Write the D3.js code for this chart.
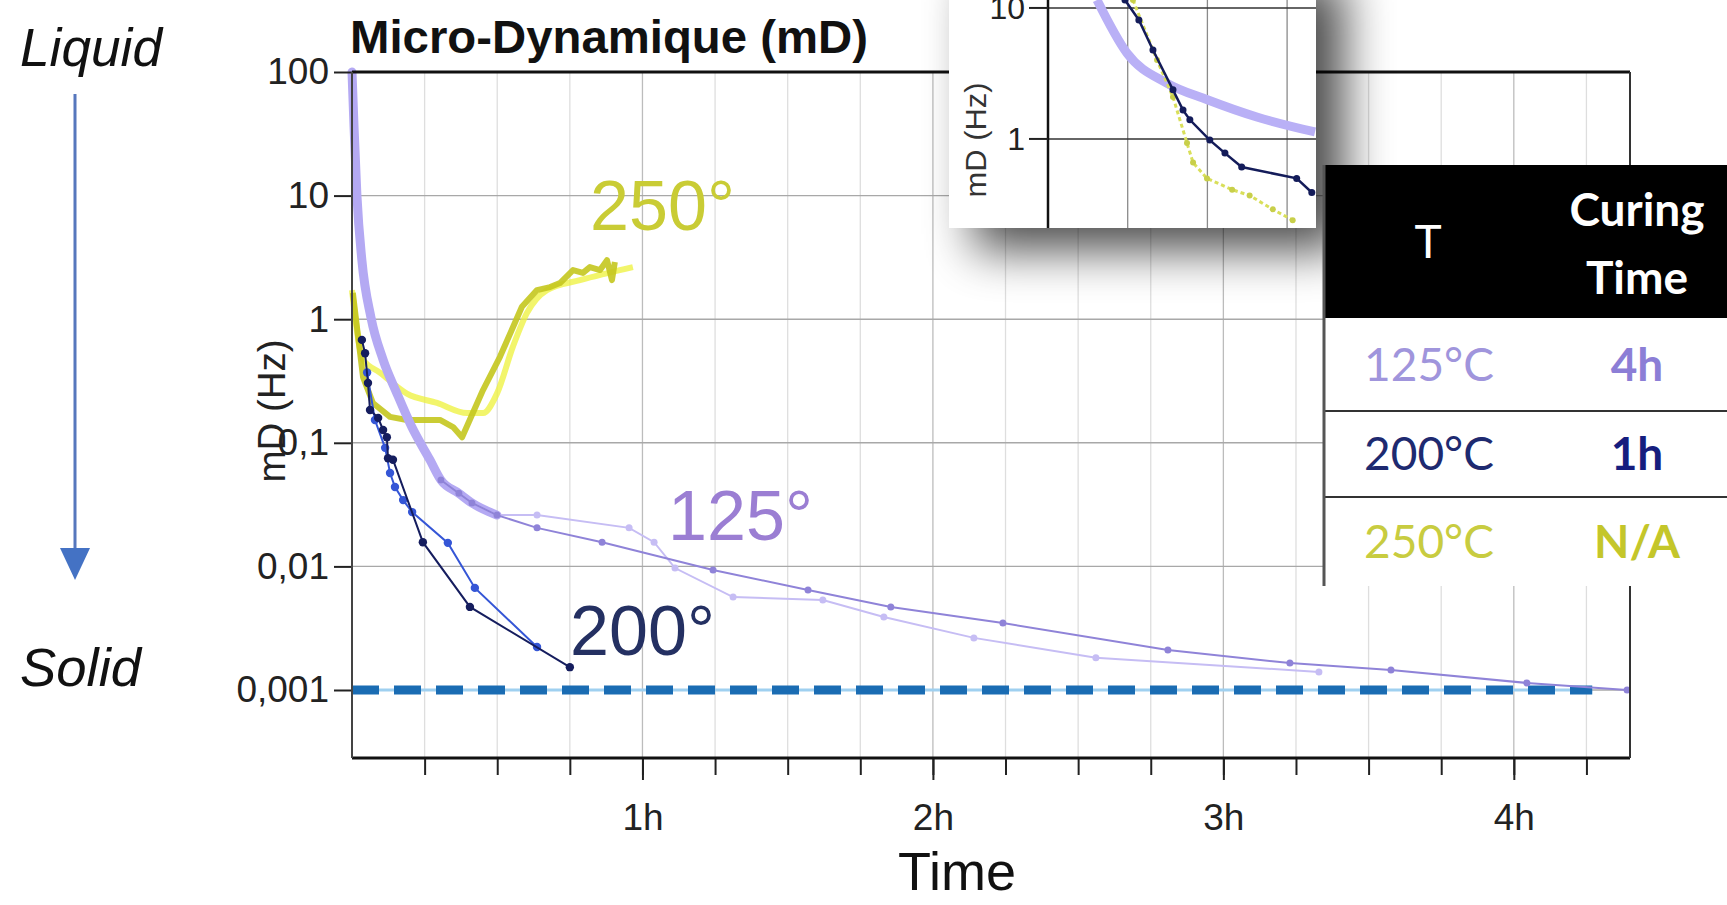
<!DOCTYPE html>
<html>
<head>
<meta charset="utf-8">
<script src="https://cdn.jsdelivr.net/npm/d3@7"></script>
<style>
	body{margin:0;background:#fff}
	svg{display:block}
</style>
</head>
<body>
<svg id="chart" width="1727" height="905"></svg>
<script>
// axis ticks
const yTicks = [100, 10, 1, 0.1, 0.01, 0.001]
const yTickLabels = ['100', '10', '1', '0,1', '0,01', '0,001']
const xHours = [1, 2, 3, 4]
const xQuarters = [0.25, 0.5, 0.75, 1, 1.25, 1.5, 1.75, 2, 2.25, 2.5, 2.75, 3, 3.25, 3.5, 3.75, 4, 4.25]
const threshold = 0.001

// 125° : early thick band, then two runs (time in h, mD in Hz)
const t125Early = [0, 0.007, 0.017, 0.034, 0.065, 0.107, 0.155, 0.206, 0.268, 0.306, 0.368, 0.413, 0.499]
const v125Early = [100, 36, 10, 3.0, 1.04, 0.47, 0.25, 0.134, 0.073, 0.05, 0.039, 0.0326, 0.026]
const t125a = [0.306, 0.368, 0.413, 0.499, 0.637, 0.861, 1.243, 1.57, 1.855, 2.241, 2.809, 3.229, 3.577, 4.045, 4.39]
const v125a = [0.05, 0.039, 0.0326, 0.026, 0.0205, 0.0157, 0.00935, 0.00644, 0.0047, 0.00348, 0.00211, 0.00165, 0.00145, 0.00114, 0.001]
const t125b = [0.306, 0.368, 0.413, 0.499, 0.637, 0.954, 1.04, 1.112, 1.312, 1.621, 1.831, 2.141, 2.561, 3.329]
const v125b = [0.05, 0.039, 0.0326, 0.026, 0.026, 0.0205, 0.0157, 0.0097, 0.00565, 0.00534, 0.0039, 0.00264, 0.00182, 0.0014]

// 200°
const t200a = [0.034, 0.045, 0.055, 0.062, 0.09, 0.107, 0.12, 0.124, 0.141, 0.244, 0.406, 0.75]
const v200a = [0.68, 0.53, 0.305, 0.184, 0.159, 0.127, 0.111, 0.075, 0.073, 0.0157, 0.0047, 0.00153]
const t200b = [0.052, 0.079, 0.114, 0.131, 0.148, 0.176, 0.207, 0.33, 0.423, 0.637]
const v200b = [0.37, 0.153, 0.091, 0.057, 0.0439, 0.0344, 0.0275, 0.0155, 0.0067, 0.00223]

// 250°
const t250a = [0.003, 0.017, 0.038, 0.072, 0.131, 0.189, 0.303, 0.348, 0.379, 0.451, 0.509, 0.585, 0.637, 0.682, 0.716, 0.761, 0.795, 0.819, 0.854, 0.878, 0.895, 0.905]
const v250a = [1.63, 0.865, 0.34, 0.21, 0.162, 0.153, 0.153, 0.134, 0.111, 0.267, 0.494, 1.26, 1.72, 1.82, 1.96, 2.5, 2.37, 2.64, 2.5, 3.0, 2.07, 2.9]
const t250b = [0, 0.038, 0.096, 0.189, 0.293, 0.396, 0.451, 0.499, 0.554, 0.602, 0.671, 0.785, 0.967]
const v250b = [1.72, 0.47, 0.37, 0.25, 0.21, 0.174, 0.174, 0.25, 0.6, 1.12, 1.72, 2.07, 2.64]

// inset (zoom on the start)
const insetTicks = [10, 1]
const insetGrid = [1, 2, 3]
const ti125 = [0.615, 0.99, 1.49, 2.0, 2.62, 3.35]
const vi125 = [11.5, 4.53, 2.67, 1.99, 1.47, 1.13]
const ti200 = [0.966, 1.14, 1.317, 1.568, 1.694, 1.78, 2.03, 2.22, 2.43, 3.12, 3.31]
const vi200 = [11.5, 8.1, 4.78, 2.37, 1.66, 1.40, 0.98, 0.78, 0.61, 0.50, 0.39]
const ti250 = [1.066, 1.368, 1.568, 1.744, 1.82, 1.995, 2.31, 2.53, 2.82, 3.07]
const vi250 = [11.5, 4.0, 2.09, 0.93, 0.66, 0.50, 0.41, 0.37, 0.29, 0.24]

// curing table
const tblTemps = ['125°C', '200°C', '250°C']
const tblTimes = ['4h', '1h', 'N/A']

const zip = (a, b) => a.map((t, i) => [t, b[i]])

const draw = () => {
	const svg = d3.select('#chart')
	const sans = 'Liberation Sans, Arial, sans-serif'
	const cal = 'Lato, Open Sans, sans-serif'

	const x = d3.scaleLinear().domain([0, 4.4]).range([352, 1630])
	const y = d3.scaleLog().domain([0.000287, 100]).range([757, 72])

	const defs = svg.append('defs')
	const flt = defs.append('filter').attr('id', 'shadow')
		.attr('x', '-50%').attr('y', '-50%').attr('width', '200%').attr('height', '200%')
	flt.append('feGaussianBlur').attr('stdDeviation', 24)
	defs.append('clipPath').attr('id', 'insetClip')
		.append('rect').attr('x', 949).attr('y', 0).attr('width', 367).attr('height', 228)

	// grid
	const grid = svg.append('g')
	grid.selectAll('.vg').data(xQuarters).join('line').classed('vg', true)
		.attr('x1', d => x(d)).attr('x2', d => x(d))
		.attr('y1', 72).attr('y2', 757)
		.attr('stroke', d => Number.isInteger(d) ? '#bcbcbc' : '#dedede')
		.attr('stroke-width', 1.3)
	grid.selectAll('.hg').data(yTicks.slice(1)).join('line').classed('hg', true)
		.attr('x1', 352).attr('x2', 1630)
		.attr('y1', d => y(d)).attr('y2', d => y(d))
		.attr('stroke', '#a8a8a8').attr('stroke-width', 1.4)

	// threshold line
	svg.append('line')
		.attr('x1', x(0)).attr('x2', x(4.27))
		.attr('y1', y(threshold)).attr('y2', y(threshold))
		.attr('stroke', '#9fd0f0').attr('stroke-width', 3)
	svg.append('line')
		.attr('x1', x(0)).attr('x2', x(4.27))
		.attr('y1', y(threshold)).attr('y2', y(threshold))
		.attr('stroke', '#1a6cb3').attr('stroke-width', 9)
		.attr('stroke-dasharray', '27 15')

	const line = d3.line().x(d => x(d[0])).y(d => y(d[1]))
	const smooth = d3.line().x(d => x(d[0])).y(d => y(d[1])).curve(d3.curveMonotoneX)

	const plot = svg.append('g')

	// 250°
	plot.append('path').datum(zip(t250b, v250b))
		.attr('d', smooth).attr('fill', 'none')
		.attr('stroke', '#eef23a').attr('stroke-width', 6).attr('opacity', 0.75)
	plot.append('path').datum(zip(t250a, v250a))
		.attr('d', line).attr('fill', 'none')
		.attr('stroke', '#c4c61e').attr('stroke-width', 6)
		.attr('stroke-linejoin', 'round').attr('opacity', 0.9)

	// 125°
	plot.append('path').datum(zip(t125Early, v125Early))
		.attr('d', smooth).attr('fill', 'none')
		.attr('stroke', '#b4a9f3').attr('stroke-width', 9)
		.attr('stroke-linecap', 'round')
	const runs125 = [[zip(t125b, v125b), '#c6bdf4'], [zip(t125a, v125a), '#8f83d8']]
	runs125.forEach(([pts, col]) => {
		plot.append('path').datum(pts)
			.attr('d', line).attr('fill', 'none')
			.attr('stroke', col).attr('stroke-width', 2)
		plot.selectAll(null).data(pts).join('circle')
			.attr('cx', d => x(d[0])).attr('cy', d => y(d[1])).attr('r', 3.5)
			.attr('fill', col)
	})

	// 200°
	const runs200 = [[zip(t200b, v200b), '#3556d6'], [zip(t200a, v200a), '#151d5e']]
	runs200.forEach(([pts, col]) => {
		plot.append('path').datum(pts)
			.attr('d', line).attr('fill', 'none')
			.attr('stroke', col).attr('stroke-width', 2)
		plot.selectAll(null).data(pts).join('circle')
			.attr('cx', d => x(d[0])).attr('cy', d => y(d[1])).attr('r', 4.2)
			.attr('fill', col)
	})

	// series labels
	const lbl = [['250°', 590, 230, '#c9cc35'], ['125°', 668, 540, '#9b7ed3'], ['200°', 570, 655, '#243062']]
	svg.selectAll('.slabel').data(lbl).join('text').classed('slabel', true)
		.attr('x', d => d[1]).attr('y', d => d[2])
		.attr('fill', d => d[3])
		.attr('font-family', sans).attr('font-size', 70)
		.attr('textLength', 145).attr('lengthAdjust', 'spacingAndGlyphs')
		.text(d => d[0])

	// axes
	const yAxis = d3.axisLeft(y).tickValues(yTicks)
		.tickFormat((d, i) => yTickLabels[i]).tickSize(18).tickPadding(5)
	const gy = svg.append('g').attr('transform', 'translate(352,0)').call(yAxis)
	gy.select('.domain').remove()
	gy.selectAll('line').attr('stroke', '#222').attr('stroke-width', 2)
	gy.selectAll('text').attr('font-family', sans).attr('font-size', 37).attr('fill', '#222')

	const gxMinor = svg.append('g').attr('transform', 'translate(0,758)')
		.call(d3.axisBottom(x).tickValues(xQuarters).tickSize(17).tickFormat(''))
	gxMinor.select('.domain').remove()
	gxMinor.selectAll('line').attr('stroke', '#222').attr('stroke-width', 2)
	const gx = svg.append('g').attr('transform', 'translate(0,758)')
		.call(d3.axisBottom(x).tickValues(xHours).tickSize(22).tickPadding(24).tickFormat(d => d + 'h'))
	gx.select('.domain').remove()
	gx.selectAll('line').attr('stroke', '#222').attr('stroke-width', 2)
	gx.selectAll('text').attr('font-family', sans).attr('font-size', 37).attr('fill', '#222')

	// frame
	const frame = [[352, 72, 1630, 72, '#111', 3], [352, 758, 1630, 758, '#111', 3],
		[352, 72, 352, 758, '#444', 2], [1630, 72, 1630, 758, '#333', 2]]
	svg.selectAll('.frame').data(frame).join('line').classed('frame', true)
		.attr('x1', d => d[0]).attr('y1', d => d[1]).attr('x2', d => d[2]).attr('y2', d => d[3])
		.attr('stroke', d => d[4]).attr('stroke-width', d => d[5])

	// titles
	svg.append('text').attr('x', 350).attr('y', 53)
		.attr('font-family', sans).attr('font-weight', 'bold').attr('font-size', 47)
		.attr('textLength', 518).attr('lengthAdjust', 'spacingAndGlyphs')
		.attr('fill', '#111').text('Micro-Dynamique (mD)')
	svg.append('text')
		.attr('transform', 'translate(285,411) rotate(-90)')
		.attr('text-anchor', 'middle')
		.attr('font-family', sans).attr('font-size', 38)
		.attr('textLength', 143).attr('lengthAdjust', 'spacingAndGlyphs')
		.attr('fill', '#222').text('mD (Hz)')
	svg.append('text').attr('x', 957).attr('y', 890)
		.attr('text-anchor', 'middle')
		.attr('font-family', sans).attr('font-size', 54)
		.attr('textLength', 118).attr('lengthAdjust', 'spacingAndGlyphs')
		.attr('fill', '#111').text('Time')

	// liquid -> solid arrow
	svg.append('text').attr('x', 20).attr('y', 66)
		.attr('font-family', sans).attr('font-style', 'italic').attr('font-size', 54)
		.attr('textLength', 142).attr('lengthAdjust', 'spacingAndGlyphs')
		.attr('fill', '#111').text('Liquid')
	svg.append('text').attr('x', 20).attr('y', 686)
		.attr('font-family', sans).attr('font-style', 'italic').attr('font-size', 54)
		.attr('textLength', 121).attr('lengthAdjust', 'spacingAndGlyphs')
		.attr('fill', '#111').text('Solid')
	svg.append('line').attr('x1', 75).attr('x2', 75).attr('y1', 94).attr('y2', 552)
		.attr('stroke', '#5677bd').attr('stroke-width', 3)
	svg.append('path').attr('d', 'M60,548 L90,548 L75,580 Z').attr('fill', '#4472c4')

	// inset
	const ix = d3.scaleLinear().domain([0, 3.35]).range([1048, 1315])
	const iy = d3.scaleLog().domain([0.209, 11.5]).range([228, 0])
	svg.append('rect').attr('x', 974).attr('y', -20).attr('width', 370).attr('height', 270)
		.attr('fill', '#000').attr('opacity', 0.7).attr('filter', 'url(#shadow)')
	const inset = svg.append('g').attr('clip-path', 'url(#insetClip)')
	inset.append('rect').attr('x', 949).attr('y', 0).attr('width', 367).attr('height', 228).attr('fill', '#fff')
	inset.selectAll('.ivg').data(insetGrid).join('line').classed('ivg', true)
		.attr('x1', d => ix(d)).attr('x2', d => ix(d)).attr('y1', 0).attr('y2', 228)
		.attr('stroke', '#8a8a8a').attr('stroke-width', 1.3)
	inset.selectAll('.ihg').data(insetTicks).join('line').classed('ihg', true)
		.attr('x1', 1048).attr('x2', 1316).attr('y1', d => iy(d)).attr('y2', d => iy(d))
		.attr('stroke', '#333').attr('stroke-width', 1.6)
	const iline = d3.line().x(d => ix(d[0])).y(d => iy(d[1]))
	const ismooth = d3.line().x(d => ix(d[0])).y(d => iy(d[1])).curve(d3.curveMonotoneX)
	inset.append('path').datum(zip(ti125, vi125)).attr('d', ismooth).attr('fill', 'none')
		.attr('stroke', '#b9b0f6').attr('stroke-width', 9)
	inset.append('path').datum(zip(ti250, vi250)).attr('d', iline).attr('fill', 'none')
		.attr('stroke', '#d9df5a').attr('stroke-width', 3).attr('stroke-dasharray', '4 3')
	inset.selectAll('.i250').data(zip(ti250, vi250)).join('circle').classed('i250', true)
		.attr('cx', d => ix(d[0])).attr('cy', d => iy(d[1])).attr('r', 3)
		.attr('fill', '#c8cf4a')
	inset.append('path').datum(zip(ti200, vi200)).attr('d', iline).attr('fill', 'none')
		.attr('stroke', '#141c5a').attr('stroke-width', 2.5)
	inset.selectAll('.i200').data(zip(ti200, vi200)).join('circle').classed('i200', true)
		.attr('cx', d => ix(d[0])).attr('cy', d => iy(d[1])).attr('r', 3.5)
		.attr('fill', '#141c5a')
	inset.append('line').attr('x1', 1048).attr('x2', 1048).attr('y1', 0).attr('y2', 228)
		.attr('stroke', '#111').attr('stroke-width', 2.5)
	inset.selectAll('.itk').data(insetTicks).join('line').classed('itk', true)
		.attr('x1', 1029).attr('x2', 1048).attr('y1', d => iy(d)).attr('y2', d => iy(d))
		.attr('stroke', '#222').attr('stroke-width', 2)
	inset.selectAll('.itl').data(insetTicks).join('text').classed('itl', true)
		.attr('x', 1025).attr('y', d => iy(d) + 11)
		.attr('text-anchor', 'end')
		.attr('font-family', sans).attr('font-size', 32).attr('fill', '#222')
		.text(d => d)
	inset.append('text')
		.attr('transform', 'translate(986,140) rotate(-90)')
		.attr('text-anchor', 'middle')
		.attr('font-family', sans).attr('font-size', 29)
		.attr('textLength', 115).attr('lengthAdjust', 'spacingAndGlyphs')
		.attr('fill', '#333').text('mD (Hz)')

	// curing table
	const tbl = svg.append('g')
	const rowY = [318, 411, 497]
	const rowH = [93, 86, 89]
	const cols = [['#a095dc', '#8c7ed6'], ['#1e2a70', '#161d7e'], ['#c8cc40', '#c4c62a']]
	tbl.append('rect').attr('x', 1323).attr('y', 165).attr('width', 404).attr('height', 153).attr('fill', '#000')
	tbl.append('rect').attr('x', 1323).attr('y', 318).attr('width', 404).attr('height', 268).attr('fill', '#fff')
	tbl.selectAll('.sep').data(rowY.slice(1)).join('line').classed('sep', true)
		.attr('x1', 1323).attr('x2', 1727).attr('y1', d => d).attr('y2', d => d)
		.attr('stroke', '#333').attr('stroke-width', 2)
	tbl.append('line').attr('x1', 1324).attr('x2', 1324).attr('y1', 165).attr('y2', 586)
		.attr('stroke', '#555').attr('stroke-width', 3)
	tbl.append('text').attr('x', 1428).attr('y', 258).attr('text-anchor', 'middle')
		.attr('font-family', cal).attr('font-size', 46).attr('fill', '#fff').text('T')
	tbl.append('text').attr('x', 1637).attr('y', 226).attr('text-anchor', 'middle')
		.attr('font-family', cal).attr('font-weight', 'bold').attr('font-size', 46).attr('fill', '#fff').text('Curing')
	tbl.append('text').attr('x', 1637).attr('y', 294).attr('text-anchor', 'middle')
		.attr('font-family', cal).attr('font-weight', 'bold').attr('font-size', 46).attr('fill', '#fff').text('Time')
	tbl.selectAll('.tt').data(tblTemps).join('text').classed('tt', true)
		.attr('x', 1429).attr('y', (d, i) => rowY[i] + rowH[i] / 2 + 16)
		.attr('text-anchor', 'middle')
		.attr('font-family', cal).attr('font-size', 46)
		.attr('fill', (d, i) => cols[i][0]).text(d => d)
	tbl.selectAll('.tm').data(tblTimes).join('text').classed('tm', true)
		.attr('x', 1637).attr('y', (d, i) => rowY[i] + rowH[i] / 2 + 16)
		.attr('text-anchor', 'middle')
		.attr('font-family', cal).attr('font-weight', 'bold').attr('font-size', 46)
		.attr('fill', (d, i) => cols[i][1]).text(d => d)
}

draw()
</script>
</body>
</html>
